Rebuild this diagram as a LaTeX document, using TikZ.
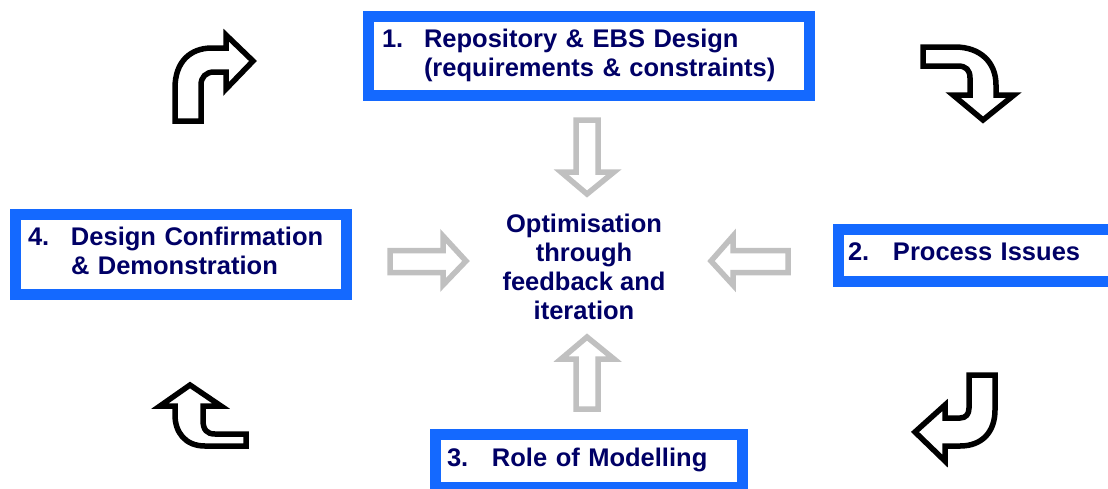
\documentclass[tikz,border=0pt]{standalone}
\usepackage{fontspec}
\setmainfont{Liberation Sans}
\usepackage{array}
\definecolor{boxblue}{RGB}{20,105,255}
\definecolor{navy}{RGB}{0,0,102}
\definecolor{arrgray}{RGB}{192,192,192}
\begin{document}
\begin{tikzpicture}[x=1pt,y=-1pt,
  box/.style={rectangle, draw=boxblue, line width=11pt, fill=white, text=navy,
    font=\fontsize{25.5}{29}\selectfont\bfseries, align=left, inner ysep=0pt},
  centertext/.style={text=navy, font=\fontsize{25.5}{29}\selectfont\bfseries, inner sep=0pt},
  curvy/.style={draw=black, line width=5.5pt, fill=white, line join=miter},
  grayarrow/.style={draw=arrgray, line width=5.5pt, fill=white, line join=miter}]
\useasboundingbox (0,0) rectangle (1108,488);
\clip (0,0) rectangle (1108,488);

% boxes
\node[box, text width=413pt, inner xsep=14pt, minimum height=79.5pt] (b1) at (588.5,55.75)
  {\begin{tabular}{@{}p{42pt}@{}l@{}}1. & Repository \& EBS Design\\ & (requirements \& constraints)\end{tabular}};
\node[box, text width=262pt, inner xsep=10pt, minimum height=52pt] (b2) at (979,255)
  {\begin{tabular}{@{}p{45pt}@{}l@{}}2. & Process Issues\end{tabular}};
\node[box, text width=284pt, inner xsep=11.5pt, minimum height=52.5pt] (b3) at (589,460.75)
  {\begin{tabular}{@{}p{45pt}@{}l@{}}3. & Role of Modelling\end{tabular}};
\node[box, text width=306pt, inner xsep=12.5pt, minimum height=79.5pt] (b4) at (181,254.25)
  {\begin{tabular}{@{}p{43pt}@{}l@{}}4. & Design Confirmation\\ & \& Demonstration\end{tabular}};

% centre text
\node[centertext, anchor=base] (opt) at (584,232)
  {\begin{tabular}[t]{@{}c@{}}Optimisation\\ through\\ feedback and\\ iteration\end{tabular}};

% grey block arrows towards the centre
\draw[grayarrow] (576,120) -- (598,120) -- (598,172) -- (614,172) -- (587,194) -- (561,172) -- (576,172) -- cycle;
\draw[grayarrow] (576,409) -- (598,409) -- (598,359) -- (614,359) -- (587,337) -- (561,359) -- (576,359) -- cycle;
\draw[grayarrow] (390,250.5) -- (443,250.5) -- (443,236) -- (466,261) -- (443,285) -- (443,272.5) -- (390,272.5) -- cycle;
\draw[grayarrow] (788,250.5) -- (733,250.5) -- (733,236) -- (711,261) -- (733,285) -- (733,272.5) -- (788,272.5) -- cycle;

% black curved arrows (cycle)
% top-left: up then right
\draw[curvy] (175,121) -- (175,88) .. controls (175,62) and (190,48) .. (212,48) -- (226,48) -- (226,35)
  -- (253,61) -- (226,89) -- (226,72) -- (214,72) .. controls (206,72) and (201,77) .. (201,85) -- (201,121) -- cycle;
% top-right: right then down
\draw[curvy] (923,47) -- (955,47) .. controls (980,47) and (996,62) .. (996,85) -- (996,95) -- (1014,95)
  -- (983,120) -- (953,95) -- (970,95) -- (970,78) .. controls (970,70) and (966,66) .. (958,66) -- (923,66) -- cycle;
% bottom-right: down then left
\draw[curvy] (969,375) -- (995,375) -- (995,410) .. controls (995,432) and (982,446) .. (960,446) -- (945,446)
  -- (945,461) -- (915,432) -- (945,405) -- (945,418) -- (960,418) .. controls (966,418) and (969,414) .. (969,408) -- cycle;
% bottom-left: left then up
\draw[curvy] (246,434) -- (246,446) -- (205,446) .. controls (185,446) and (175,432) .. (175,415) -- (175,406)
  -- (160,406) -- (190,385) -- (221,406) -- (203,406) -- (203,420) .. controls (203,430) and (207,434) .. (215,434) -- cycle;
\end{tikzpicture}
\end{document}
